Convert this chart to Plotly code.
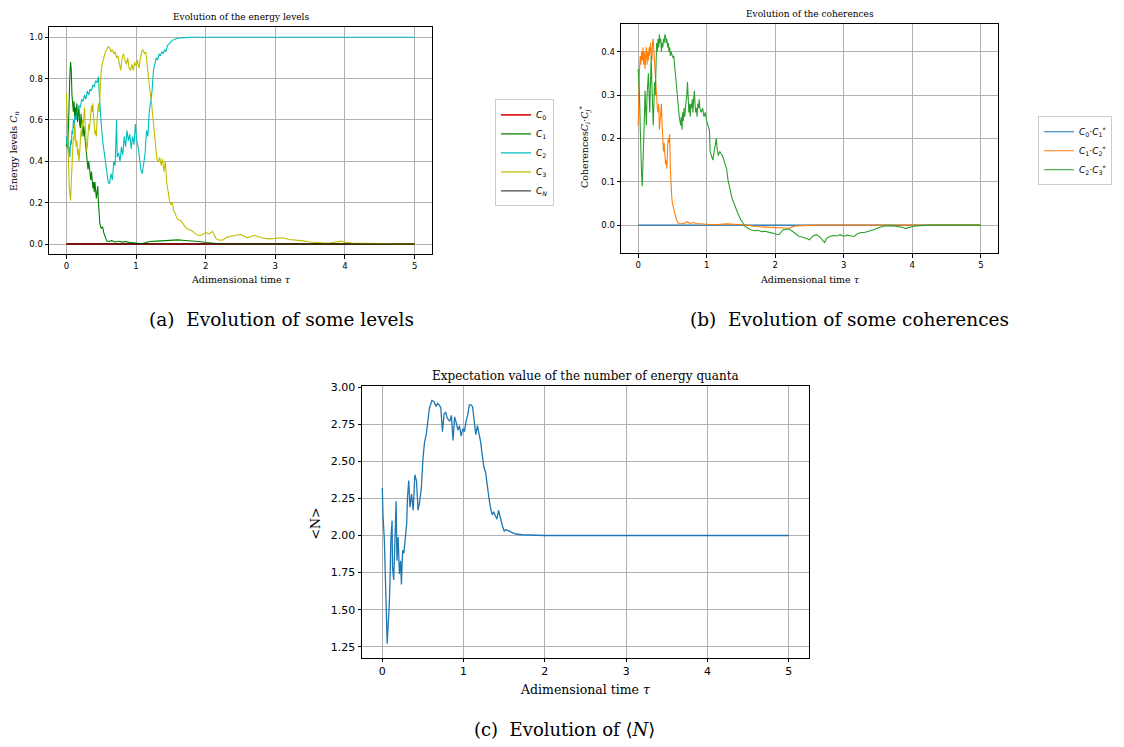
import plotly.graph_objects as go

# ---------------- data ----------------
# Panel (a): energy levels C_n versus adimensional time tau
c0_points = [(0.0, 0.0), (5.0, 0.0)]
cn_points = [(0.0, 0.0), (5.0, 0.0)]
c1_points = [(0, 0.47), (0.01, 0.52), (0.02, 0.46), (0.03, 0.62), (0.04, 0.75), (0.05, 0.82),
             (0.06, 0.88), (0.07, 0.84), (0.08, 0.72), (0.09, 0.66), (0.1, 0.64), (0.11, 0.69),
             (0.12, 0.6), (0.13, 0.66), (0.14, 0.62), (0.15, 0.68), (0.16, 0.59), (0.17, 0.63),
             (0.18, 0.66), (0.19, 0.58), (0.2, 0.56), (0.21, 0.63), (0.22, 0.6), (0.23, 0.55),
             (0.24, 0.52), (0.25, 0.57), (0.26, 0.53), (0.27, 0.49), (0.28, 0.45), (0.29, 0.41),
             (0.3, 0.38), (0.31, 0.36), (0.32, 0.4), (0.33, 0.37), (0.34, 0.33), (0.35, 0.31),
             (0.36, 0.35), (0.37, 0.3), (0.38, 0.27), (0.39, 0.3), (0.4, 0.25), (0.41, 0.3),
             (0.42, 0.26), (0.43, 0.22), (0.44, 0.25), (0.45, 0.28), (0.46, 0.2), (0.47, 0.14),
             (0.48, 0.1), (0.5, 0.075), (0.52, 0.083), (0.54, 0.05), (0.56, 0.027), (0.58, 0.014),
             (0.6, 0.012), (0.65, 0.016), (0.7, 0.01), (0.75, 0.013), (0.8, 0.009), (0.85, 0.012),
             (0.9, 0.008), (0.95, 0.006), (1.0, 0.003), (1.05, 0.002), (1.1, 0.004), (1.15, 0.008),
             (1.2, 0.012), (1.3, 0.014), (1.4, 0.016), (1.5, 0.018), (1.6, 0.02), (1.7, 0.017),
             (1.8, 0.016), (1.9, 0.012), (2.0, 0.007), (2.1, 0.004), (2.2, 0.001), (2.4, 0.0),
             (5.0, 0.0)]
c2_points = [(0, 0.52), (0.01, 0.48), (0.02, 0.5), (0.03, 0.44), (0.04, 0.47), (0.05, 0.42),
             (0.06, 0.5), (0.07, 0.48), (0.08, 0.55), (0.09, 0.53), (0.1, 0.6), (0.11, 0.56),
             (0.12, 0.62), (0.14, 0.6), (0.16, 0.65), (0.18, 0.67), (0.2, 0.66), (0.22, 0.7),
             (0.24, 0.69), (0.26, 0.72), (0.28, 0.7), (0.3, 0.74), (0.32, 0.72), (0.34, 0.75),
             (0.36, 0.74), (0.38, 0.77), (0.4, 0.76), (0.42, 0.79), (0.44, 0.78), (0.46, 0.81),
             (0.47, 0.74), (0.48, 0.66), (0.5, 0.58), (0.52, 0.5), (0.54, 0.44), (0.56, 0.38),
             (0.58, 0.35), (0.6, 0.3), (0.62, 0.29), (0.64, 0.34), (0.66, 0.31), (0.68, 0.4),
             (0.7, 0.38), (0.72, 0.6), (0.73, 0.42), (0.75, 0.44), (0.77, 0.4), (0.79, 0.47),
             (0.81, 0.43), (0.83, 0.52), (0.85, 0.47), (0.87, 0.55), (0.89, 0.5), (0.91, 0.53),
             (0.93, 0.46), (0.95, 0.52), (0.97, 0.48), (0.99, 0.58), (1.01, 0.5), (1.03, 0.47),
             (1.05, 0.42), (1.07, 0.36), (1.09, 0.34), (1.11, 0.4), (1.13, 0.44), (1.15, 0.55),
             (1.17, 0.52), (1.19, 0.64), (1.21, 0.7), (1.23, 0.74), (1.25, 0.84), (1.27, 0.87),
             (1.29, 0.9), (1.31, 0.89), (1.33, 0.92), (1.35, 0.91), (1.37, 0.93), (1.39, 0.92),
             (1.41, 0.94), (1.43, 0.93), (1.45, 0.96), (1.48, 0.97), (1.52, 0.985), (1.56, 0.99),
             (1.6, 0.995), (1.7, 0.998), (1.8, 1.0), (5.0, 1.0)]
c3_points = [(0, 0.73), (0.01, 0.6), (0.02, 0.45), (0.03, 0.38), (0.04, 0.28), (0.05, 0.24),
             (0.06, 0.21), (0.07, 0.3), (0.08, 0.42), (0.09, 0.45), (0.1, 0.52), (0.11, 0.5),
             (0.12, 0.58), (0.13, 0.52), (0.14, 0.47), (0.15, 0.5), (0.16, 0.43), (0.17, 0.46),
             (0.18, 0.4), (0.19, 0.44), (0.2, 0.5), (0.21, 0.55), (0.22, 0.52), (0.23, 0.6),
             (0.24, 0.57), (0.25, 0.63), (0.26, 0.66), (0.27, 0.58), (0.28, 0.5), (0.29, 0.45),
             (0.3, 0.47), (0.31, 0.52), (0.32, 0.58), (0.33, 0.55), (0.34, 0.6), (0.35, 0.63),
             (0.36, 0.67), (0.37, 0.64), (0.38, 0.68), (0.39, 0.62), (0.4, 0.57), (0.41, 0.53),
             (0.42, 0.55), (0.43, 0.52), (0.44, 0.6), (0.45, 0.66), (0.46, 0.68), (0.47, 0.64),
             (0.48, 0.74), (0.49, 0.8), (0.5, 0.84), (0.52, 0.88), (0.54, 0.91), (0.56, 0.93),
             (0.58, 0.94), (0.6, 0.955), (0.62, 0.95), (0.64, 0.93), (0.66, 0.94), (0.68, 0.92),
             (0.7, 0.93), (0.72, 0.9), (0.74, 0.91), (0.76, 0.88), (0.78, 0.84), (0.8, 0.9),
             (0.82, 0.92), (0.84, 0.89), (0.86, 0.87), (0.88, 0.9), (0.9, 0.85), (0.92, 0.84),
             (0.94, 0.87), (0.96, 0.84), (0.98, 0.88), (1.0, 0.86), (1.02, 0.89), (1.04, 0.85),
             (1.06, 0.9), (1.08, 0.93), (1.1, 0.94), (1.12, 0.92), (1.14, 0.93), (1.16, 0.86),
             (1.18, 0.79), (1.2, 0.74), (1.22, 0.69), (1.24, 0.62), (1.26, 0.55), (1.28, 0.46),
             (1.3, 0.41), (1.32, 0.4), (1.34, 0.42), (1.36, 0.38), (1.38, 0.41), (1.4, 0.35),
             (1.42, 0.4), (1.44, 0.3), (1.46, 0.24), (1.48, 0.21), (1.5, 0.19), (1.52, 0.2),
             (1.54, 0.16), (1.56, 0.15), (1.58, 0.13), (1.6, 0.12), (1.65, 0.11), (1.7, 0.085),
             (1.75, 0.07), (1.8, 0.065), (1.85, 0.05), (1.9, 0.04), (1.95, 0.045), (2.0, 0.055),
             (2.05, 0.05), (2.1, 0.06), (2.15, 0.025), (2.2, 0.018), (2.25, 0.02), (2.3, 0.032),
             (2.4, 0.04), (2.5, 0.046), (2.6, 0.03), (2.7, 0.042), (2.8, 0.03), (2.9, 0.025),
             (3.0, 0.027), (3.1, 0.03), (3.2, 0.022), (3.3, 0.02), (3.4, 0.015), (3.5, 0.01),
             (3.6, 0.007), (3.7, 0.005), (3.8, 0.006), (3.9, 0.01), (3.95, 0.014), (4.0, 0.008),
             (4.1, 0.005), (4.3, 0.003), (4.5, 0.002), (4.7, 0.001), (5.0, 0.0)]

# Panel (b): coherences
c01_points = [(0.0, 0.0), (5.0, 0.0)]
c12_points = [(0, 0.23), (0.005, 0.3), (0.01, 0.25), (0.02, 0.36), (0.03, 0.39), (0.04, 0.37),
              (0.05, 0.4), (0.06, 0.38), (0.07, 0.41), (0.08, 0.37), (0.09, 0.4), (0.1, 0.36),
              (0.11, 0.39), (0.12, 0.41), (0.13, 0.37), (0.14, 0.4), (0.15, 0.38), (0.16, 0.41),
              (0.17, 0.39), (0.18, 0.42), (0.19, 0.4), (0.2, 0.38), (0.21, 0.42), (0.22, 0.43),
              (0.23, 0.4), (0.24, 0.37), (0.25, 0.35), (0.26, 0.33), (0.27, 0.3), (0.28, 0.27),
              (0.29, 0.26), (0.3, 0.28), (0.31, 0.22), (0.32, 0.24), (0.33, 0.26), (0.34, 0.28),
              (0.35, 0.23), (0.36, 0.2), (0.37, 0.17), (0.38, 0.19), (0.39, 0.16), (0.4, 0.14),
              (0.41, 0.15), (0.42, 0.13), (0.43, 0.18), (0.44, 0.2), (0.45, 0.19), (0.46, 0.21),
              (0.47, 0.13), (0.48, 0.08), (0.49, 0.066), (0.5, 0.05), (0.52, 0.035), (0.54, 0.02),
              (0.56, 0.012), (0.58, 0.006), (0.6, 0.004), (0.65, 0.003), (0.7, 0.006), (0.72, 0.008),
              (0.75, 0.004), (0.8, 0.006), (0.85, 0.004), (0.9, 0.003), (1.0, 0.002), (1.1, 0.001),
              (1.2, 0.002), (1.3, 0.003), (1.4, 0.002), (1.5, 0.001), (1.6, 0.0), (1.7, -0.003),
              (1.8, -0.004), (1.9, -0.005), (2.0, -0.006), (2.1, -0.006), (2.2, -0.007),
              (2.25, -0.004), (2.3, -0.002), (2.4, -0.001), (2.6, 0.0), (5.0, 0.0)]
c23_points = [(0, 0.36), (0.01, 0.34), (0.02, 0.3), (0.03, 0.23), (0.04, 0.15), (0.05, 0.12),
              (0.06, 0.09), (0.07, 0.13), (0.08, 0.16), (0.09, 0.24), (0.1, 0.31), (0.11, 0.27),
              (0.12, 0.23), (0.13, 0.3), (0.14, 0.33), (0.15, 0.35), (0.16, 0.3), (0.17, 0.26),
              (0.18, 0.33), (0.19, 0.39), (0.2, 0.33), (0.21, 0.27), (0.22, 0.23), (0.23, 0.28),
              (0.24, 0.33), (0.25, 0.3), (0.26, 0.38), (0.27, 0.42), (0.28, 0.4), (0.29, 0.43),
              (0.3, 0.41), (0.31, 0.44), (0.32, 0.42), (0.33, 0.43), (0.34, 0.4), (0.35, 0.42),
              (0.36, 0.41), (0.37, 0.43), (0.38, 0.42), (0.39, 0.44), (0.4, 0.435), (0.41, 0.42),
              (0.42, 0.43), (0.43, 0.41), (0.44, 0.42), (0.45, 0.4), (0.46, 0.41), (0.47, 0.39),
              (0.48, 0.4), (0.49, 0.395), (0.5, 0.39), (0.51, 0.385), (0.52, 0.39), (0.53, 0.37),
              (0.54, 0.36), (0.55, 0.35), (0.56, 0.33), (0.57, 0.3), (0.58, 0.28), (0.59, 0.26),
              (0.6, 0.25), (0.61, 0.24), (0.62, 0.23), (0.63, 0.25), (0.64, 0.22), (0.65, 0.26),
              (0.66, 0.24), (0.67, 0.27), (0.68, 0.25), (0.69, 0.27), (0.7, 0.28), (0.71, 0.3),
              (0.72, 0.33), (0.73, 0.3), (0.74, 0.26), (0.75, 0.28), (0.76, 0.25), (0.77, 0.28),
              (0.78, 0.27), (0.79, 0.29), (0.8, 0.26), (0.81, 0.29), (0.82, 0.31), (0.83, 0.28),
              (0.84, 0.26), (0.85, 0.27), (0.86, 0.25), (0.87, 0.28), (0.88, 0.27), (0.89, 0.29),
              (0.9, 0.27), (0.92, 0.26), (0.94, 0.27), (0.96, 0.25), (0.98, 0.26), (1.0, 0.24),
              (1.02, 0.23), (1.04, 0.22), (1.05, 0.17), (1.07, 0.16), (1.09, 0.15), (1.11, 0.17),
              (1.13, 0.19), (1.14, 0.2), (1.15, 0.18), (1.17, 0.16), (1.19, 0.17), (1.21, 0.165),
              (1.23, 0.16), (1.25, 0.15), (1.27, 0.14), (1.29, 0.13), (1.31, 0.105), (1.33, 0.09),
              (1.35, 0.075), (1.37, 0.062), (1.4, 0.05), (1.43, 0.035), (1.46, 0.025), (1.5, 0.012),
              (1.53, 0.005), (1.56, -0.003), (1.6, -0.007), (1.65, -0.011), (1.7, -0.013),
              (1.75, -0.012), (1.8, -0.015), (1.85, -0.014), (1.9, -0.016), (1.95, -0.018),
              (2.0, -0.02), (2.05, -0.022), (2.08, -0.018), (2.11, -0.011), (2.15, -0.01),
              (2.2, -0.009), (2.25, -0.014), (2.3, -0.02), (2.35, -0.026), (2.4, -0.028),
              (2.45, -0.03), (2.5, -0.034), (2.55, -0.025), (2.6, -0.022), (2.65, -0.027),
              (2.7, -0.037), (2.72, -0.04), (2.75, -0.03), (2.8, -0.026), (2.85, -0.024),
              (2.9, -0.025), (2.95, -0.022), (3.0, -0.026), (3.05, -0.023), (3.1, -0.025),
              (3.15, -0.026), (3.2, -0.02), (3.25, -0.017), (3.3, -0.017), (3.35, -0.015),
              (3.4, -0.012), (3.45, -0.01), (3.5, -0.006), (3.55, -0.004), (3.6, -0.002),
              (3.7, -0.001), (3.8, -0.003), (3.85, -0.005), (3.9, -0.008), (3.95, -0.006),
              (4.0, -0.003), (4.1, -0.001), (4.3, 0.0), (5.0, 0.0)]

# Panel (c): expectation value <N>
n_points = [(0, 2.32), (0.008, 2.14), (0.025, 1.97), (0.035, 1.7), (0.045, 1.43), (0.06, 1.27),
            (0.075, 1.43), (0.085, 1.52), (0.095, 1.7), (0.105, 1.97), (0.12, 2.1), (0.125, 1.79),
            (0.14, 1.7), (0.155, 1.99), (0.17, 2.23), (0.18, 1.83), (0.195, 1.99), (0.21, 1.74),
            (0.225, 1.83), (0.235, 1.67), (0.25, 1.9), (0.265, 1.88), (0.28, 1.99), (0.3, 2.08),
            (0.31, 2.26), (0.325, 2.37), (0.34, 2.19), (0.36, 2.28), (0.38, 2.17), (0.4, 2.41),
            (0.42, 2.37), (0.44, 2.17), (0.46, 2.23), (0.48, 2.32), (0.5, 2.52), (0.52, 2.63),
            (0.54, 2.68), (0.56, 2.79), (0.58, 2.86), (0.61, 2.91), (0.64, 2.9), (0.66, 2.87),
            (0.68, 2.89), (0.7, 2.88), (0.72, 2.86), (0.74, 2.7), (0.76, 2.82), (0.78, 2.83),
            (0.8, 2.79), (0.83, 2.77), (0.85, 2.81), (0.87, 2.64), (0.89, 2.8), (0.91, 2.76),
            (0.93, 2.71), (0.95, 2.74), (0.97, 2.67), (0.99, 2.72), (1.01, 2.7), (1.03, 2.77),
            (1.05, 2.81), (1.07, 2.88), (1.09, 2.88), (1.11, 2.87), (1.13, 2.79), (1.15, 2.68),
            (1.17, 2.74), (1.19, 2.68), (1.21, 2.63), (1.23, 2.54), (1.25, 2.46), (1.27, 2.43),
            (1.29, 2.32), (1.31, 2.26), (1.33, 2.19), (1.35, 2.14), (1.37, 2.16), (1.39, 2.14),
            (1.41, 2.11), (1.43, 2.17), (1.45, 2.12), (1.48, 2.06), (1.5, 2.03), (1.52, 2.04),
            (1.56, 2.03), (1.6, 2.02), (1.64, 2.01), (1.72, 2.005), (1.84, 2.002), (2.0, 2.0),
            (5.0, 2.0)]

tau_c0, c0 = map(list, zip(*c0_points))
tau_c1, c1 = map(list, zip(*c1_points))
tau_c2, c2 = map(list, zip(*c2_points))
tau_c3, c3 = map(list, zip(*c3_points))
tau_cn, cn = map(list, zip(*cn_points))
tau_c01, c01 = map(list, zip(*c01_points))
tau_c12, c12 = map(list, zip(*c12_points))
tau_c23, c23 = map(list, zip(*c23_points))
tau_n, n_mean = map(list, zip(*n_points))

# ---------------- figure ----------------
# the page body has an 8px margin, so the figure is drawn 16px smaller
OFF = 8
W, H = 1124 - 2 * OFF, 747 - 2 * OFF
def px(x):
    return (x - OFF) / W
def py(y):
    return 1 - (y - OFF) / H

fig = go.Figure()
lw = 1.1

# panel (a)
for tx, vy, name, col, w in [(tau_c0, c0, "<i>C</i><sub>0</sub>", "#e02020", 1.8),
                             (tau_c1, c1, "<i>C</i><sub>1</sub>", "#008000", lw),
                             (tau_c2, c2, "<i>C</i><sub>2</sub>", "#00bfbf", lw),
                             (tau_c3, c3, "<i>C</i><sub>3</sub>", "#bfbf00", lw),
                             (tau_cn, cn, "<i>C</i><sub><i>N</i></sub>", "#000000", 0.9)]:
    fig.add_trace(go.Scatter(x=tx, y=vy, mode="lines", name=name, line=dict(color=col, width=w),
                             xaxis="x", yaxis="y", legend="legend"))

# panel (b)
for tx, vy, name, col in [(tau_c01, c01, "<i>C</i><sub>0</sub>·<i>C</i><sub>1</sub><sup>*</sup>", "#1f77b4"),
                          (tau_c12, c12, "<i>C</i><sub>1</sub>·<i>C</i><sub>2</sub><sup>*</sup>", "#ff7f0e"),
                          (tau_c23, c23, "<i>C</i><sub>2</sub>·<i>C</i><sub>3</sub><sup>*</sup>", "#2ca02c")]:
    fig.add_trace(go.Scatter(x=tx, y=vy, mode="lines", name=name, line=dict(color=col, width=lw),
                             xaxis="x2", yaxis="y2", legend="legend2"))

# panel (c)
fig.add_trace(go.Scatter(x=tau_n, y=n_mean, mode="lines", line=dict(color="#1f77b4", width=1.3),
                         xaxis="x3", yaxis="y3", showlegend=False))

def axis(domain, anchor, rng, tickvals, fmt, size):
    return dict(domain=domain, anchor=anchor, range=rng, tickvals=tickvals,
                tickformat=fmt, showline=True, linecolor="black", linewidth=1, mirror=True,
                ticks="outside", ticklen=3.5, tickwidth=0.8, tickcolor="black",
                showgrid=True, gridcolor="#b0b0b0", gridwidth=0.8, zeroline=False,
                tickfont=dict(family="DejaVu Sans", size=size, color="black"))

xt = [0, 1, 2, 3, 4, 5]
fig.update_layout(
    width=W, height=H, paper_bgcolor="white", plot_bgcolor="white",
    margin=dict(l=0, r=0, t=0, b=0),
    xaxis=axis([px(49), px(432)], "y", [-0.25, 5.25], xt, "d", 8.5),
    yaxis=axis([py(251), py(22)], "x", [-0.05, 1.05], [0, 0.2, 0.4, 0.6, 0.8, 1.0], ".1f", 8.5),
    xaxis2=axis([px(621), px(998)], "y2", [-0.25, 5.25], xt, "d", 8.5),
    yaxis2=axis([py(250), py(19)], "x2", [-0.065, 0.464], [0, 0.1, 0.2, 0.3, 0.4], ".1f", 8.5),
    xaxis3=axis([px(362), px(809)], "y3", [-0.25, 5.25], xt, "d", 11),
    yaxis3=axis([py(657), py(384)], "x3", [1.177, 3.005],
                [1.25, 1.5, 1.75, 2.0, 2.25, 2.5, 2.75, 3.0], ".2f", 11),
    legend=dict(x=px(495), y=py(95), xanchor="left", yanchor="top", bgcolor="white",
                bordercolor="#cccccc", borderwidth=1, font=dict(family="DejaVu Sans", size=9, color="black"),
                tracegroupgap=0, itemwidth=30),
    legend2=dict(x=px(1038), y=py(112), xanchor="left", yanchor="top", bgcolor="white",
                 bordercolor="#cccccc", borderwidth=1, font=dict(family="DejaVu Sans", size=9, color="black"),
                 tracegroupgap=0, itemwidth=30),
)

serif = "DejaVu Serif"
cap = "DejaVu Serif"
ann = [
    # panel titles
    dict(text="Evolution of the energy levels", x=px(240.5), y=py(12), size=9, fam=serif, angle=0),
    dict(text="Evolution of the coherences", x=px(809.5), y=py(9), size=9, fam=serif, angle=0),
    dict(text="Expectation value of the number of energy quanta", x=px(585.5), y=py(373), size=12, fam=serif, angle=0),
    # x titles
    dict(text="Adimensional time <i>τ</i>", x=px(240.5), y=py(276), size=9.5, fam=serif, angle=0),
    dict(text="Adimensional time <i>τ</i>", x=px(809.5), y=py(276), size=9.5, fam=serif, angle=0),
    dict(text="Adimensional time <i>τ</i>", x=px(585.5), y=py(689), size=12.5, fam=serif, angle=0),
    # y titles
    dict(text="Energy levels <i>C<sub>n</sub></i>", x=px(14), y=py(147), size=9.5, fam=serif, angle=-90),
    dict(text="Coherences<i>C<sub>i</sub></i>·<i>C<sub>j</sub></i><sup>*</sup>", x=px(585), y=py(143), size=9.5, fam=serif, angle=-90),
    dict(text="&lt;N&gt;", x=px(315), y=py(522), size=12.5, fam=serif, angle=-90),
    # captions
    dict(text="(a)  Evolution of some levels", x=px(281), y=py(317), size=18.5, fam=cap, angle=0),
    dict(text="(b)  Evolution of some coherences", x=px(849), y=py(317), size=18.5, fam=cap, angle=0),
    dict(text="(c)  Evolution of ⟨<i>N</i>⟩", x=px(564), y=py(729), size=18, fam=cap, angle=0),
]
for a in ann:
    fig.add_annotation(text=a["text"], x=a["x"], y=a["y"], xref="paper", yref="paper",
                       xanchor="center", yanchor="middle", showarrow=False, textangle=a["angle"],
                       font=dict(family=a["fam"], size=a["size"], color="black"))

fig.write_html("out.html")
